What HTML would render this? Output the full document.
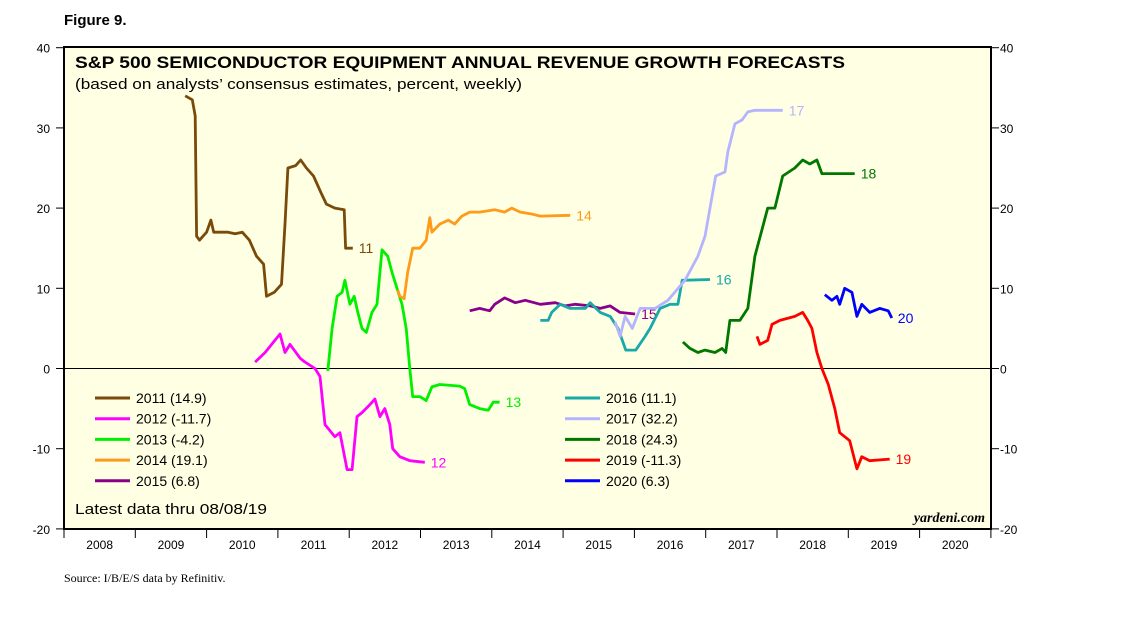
<!DOCTYPE html>
<html><head><meta charset="utf-8"><style>
body{margin:0;background:#fff;width:1138px;height:621px;overflow:hidden}
svg{display:block}
text{font-family:"Liberation Sans",Arial,sans-serif}
</style></head><body>
<svg id="chart" width="1138" height="621" xmlns="http://www.w3.org/2000/svg">
<text x="64" y="25" font-size="15" font-weight="bold">Figure 9.</text>
<rect x="64" y="47" width="927" height="482" fill="#ffffe3" stroke="#000" stroke-width="2"/>
<text x="75" y="68" font-size="17" font-weight="bold" textLength="770" lengthAdjust="spacingAndGlyphs">S&amp;P 500 SEMICONDUCTOR EQUIPMENT ANNUAL REVENUE GROWTH FORECASTS</text>
<text x="75" y="89" font-size="15" textLength="447" lengthAdjust="spacingAndGlyphs">(based on analysts’ consensus estimates, percent, weekly)</text>
<g id="axes"></g>
<g id="series"></g>
<g id="legend"></g>
<text x="75" y="514" font-size="15" textLength="192" lengthAdjust="spacingAndGlyphs">Latest data thru 08/08/19</text>
<text x="985" y="522" font-size="14" font-style="italic" font-weight="bold" text-anchor="end" style="font-family:'Liberation Serif',serif">yardeni.com</text>
<text x="64" y="582" font-size="12" style="font-family:'Liberation Serif',serif">Source: I/B/E/S data by Refinitiv.</text>
</svg>
<script>
const yTicks=[40,30,20,10,0,-10,-20];
const years=[2008,2009,2010,2011,2012,2013,2014,2015,2016,2017,2018,2019,2020];
const t11=[2009.70,2009.80,2009.84,2009.86,2009.9,2009.95,2010.0,2010.06,2010.1,2010.3,2010.4,2010.5,2010.6,2010.7,2010.8,2010.84,2010.95,2011.05,2011.1,2011.14,2011.25,2011.32,2011.4,2011.5,2011.6,2011.68,2011.8,2011.93,2011.95,2012.05];
const v11=[34,33.5,31.5,16.5,16,16.5,17,18.5,17,17,16.8,17,16,14,13,9,9.5,10.5,18,25,25.3,26,25,24,22,20.5,20,19.8,15,15];
const t12=[2010.68,2010.82,2011.03,2011.10,2011.17,2011.31,2011.38,2011.52,2011.59,2011.66,2011.80,2011.87,2011.97,2012.04,2012.11,2012.18,2012.29,2012.36,2012.43,2012.50,2012.57,2012.61,2012.71,2012.85,2013.06];
const v12=[0.8,2,4.3,2,3,1.3,0.8,0,-1,-7,-8.5,-8,-12.6,-12.6,-6,-5.5,-4.5,-3.8,-6,-5,-7,-10,-11,-11.5,-11.7];
const t13=[2011.70,2011.76,2011.83,2011.90,2011.94,2012.01,2012.07,2012.12,2012.18,2012.24,2012.32,2012.39,2012.46,2012.54,2012.60,2012.74,2012.80,2012.85,2012.89,2012.99,2013.08,2013.16,2013.27,2013.55,2013.62,2013.69,2013.83,2013.95,2014.02,2014.11];
const v13=[-0.3,5,9,9.5,11,8,9,7,5,4.5,7,8,14.8,14,12,8,5,0,-3.5,-3.5,-4,-2.3,-2,-2.2,-2.5,-4.5,-5,-5.2,-4.2,-4.2];
const t14=[2012.68,2012.71,2012.77,2012.82,2012.89,2012.99,2013.08,2013.13,2013.16,2013.27,2013.39,2013.48,2013.58,2013.69,2013.83,2014.04,2014.18,2014.28,2014.40,2014.54,2014.68,2015.10];
const v14=[9.8,9,8.7,12,15,15,16,18.8,17,18,18.5,18,19,19.5,19.5,19.8,19.5,20,19.5,19.3,19,19.1];
const t15=[2013.69,2013.83,2013.97,2014.04,2014.18,2014.33,2014.47,2014.68,2014.89,2015.03,2015.17,2015.38,2015.52,2015.66,2015.80,2016.01];
const v15=[7.2,7.5,7.2,8,8.8,8.2,8.5,8,8.2,7.8,8,7.8,7.5,7.8,7,6.8];
const t16=[2014.68,2014.79,2014.84,2014.96,2015.10,2015.31,2015.38,2015.52,2015.66,2015.77,2015.88,2016.02,2016.15,2016.22,2016.36,2016.50,2016.61,2016.67,2017.06];
const v16=[6,6,7,8,7.5,7.5,8.2,7,6.5,5,2.3,2.3,4,5,7.5,8,8,11,11.1];
const t17=[2015.73,2015.80,2015.87,2015.97,2016.08,2016.29,2016.47,2016.71,2016.89,2016.99,2017.06,2017.14,2017.27,2017.31,2017.41,2017.51,2017.59,2017.69,2018.08];
const v17=[5.8,4,6.5,5,7.5,7.5,8.5,11,14,16.5,20,24,24.5,27,30.5,31,32,32.2,32.2];
const t18=[2016.68,2016.78,2016.89,2016.99,2017.13,2017.23,2017.28,2017.34,2017.48,2017.59,2017.69,2017.87,2017.97,2018.08,2018.25,2018.36,2018.46,2018.56,2018.63,2019.09];
const v18=[3.3,2.5,2,2.3,2,2.5,2,6,6,7.5,14,20,20,24,25,26,25.5,26,24.3,24.3];
const t19=[2017.72,2017.76,2017.87,2017.93,2018.04,2018.25,2018.36,2018.43,2018.49,2018.56,2018.63,2018.72,2018.81,2018.88,2019.02,2019.12,2019.19,2019.30,2019.58];
const v19=[4,3,3.5,5.5,6,6.5,7,6,5,2,0,-2,-5,-8,-9,-12.5,-11,-11.5,-11.3];
const t20=[2018.67,2018.77,2018.84,2018.88,2018.95,2019.05,2019.12,2019.19,2019.30,2019.44,2019.56,2019.61];
const v20=[9.2,8.5,9,8,10,9.5,6.5,8,7,7.5,7.2,6.3];
const seriesNames=["2011 (14.9)","2012 (-11.7)","2013 (-4.2)","2014 (19.1)","2015 (6.8)","2016 (11.1)","2017 (32.2)","2018 (24.3)","2019 (-11.3)","2020 (6.3)"];
const endLabels=["11","12","13","14","15","16","17","18","19","20"];
const colors=["#7a4a0a","#ff00ff","#00f000","#ff9a1a","#8b008b","#1aa8a8","#b4b4ff","#007800","#ff0000","#0000ff"];
const T=[t11,t12,t13,t14,t15,t16,t17,t18,t19,t20], V=[v11,v12,v13,v14,v15,v16,v17,v18,v19,v20];
const NS="http://www.w3.org/2000/svg";
const X=t=>64+(t-2008)*71.3, Y=v=>368.5-v*8.02;
function mk(tag,attrs,parent,txt){const e=document.createElementNS(NS,tag);for(const k in attrs)e.setAttribute(k,attrs[k]);if(txt!==undefined)e.textContent=txt;parent.appendChild(e);return e;}
const ax=document.getElementById('axes');
yTicks.forEach(v=>{
 const l=mk('text',{x:50,y:Y(v)+5,'font-size':12,'text-anchor':'end'},ax,String(v));
 
 
 const r=mk('text',{x:1000,y:Y(v)+5,'font-size':12},ax,String(v));
 
 
 const a=mk('line',{x1:56,x2:64,y1:Y(v),y2:Y(v),stroke:'#000'},ax);
 
 
 const b=mk('line',{x1:991,x2:999,y1:Y(v),y2:Y(v),stroke:'#000'},ax);
 
 
});
const z=mk('line',{x1:64,x2:991,y1:Y(0),y2:Y(0),stroke:'#000','stroke-width':1},ax);


years.forEach(yr=>{
 const t=mk('text',{x:X(yr+0.5),y:549,'font-size':12,'text-anchor':'middle'},ax,String(yr));
 
 
 const m=mk('line',{x1:X(yr),x2:X(yr),y1:529,y2:538,stroke:'#000'},ax);
 
 
});
const me=mk('line',{x1:X(2021),x2:X(2021),y1:529,y2:538,stroke:'#000'},ax);


const sg=document.getElementById('series'), lg=document.getElementById('legend');
T.forEach((ts,i)=>{
 const d=ts.map((t,j)=>(j?'L':'M')+X(t).toFixed(1)+' '+Y(V[i][j]).toFixed(1)).join(' ');
 const p=mk('path',{d:d,fill:'none',stroke:colors[i],'stroke-width':2.8,'stroke-linejoin':'round'},sg);
 
 
 const n=ts.length-1;
 const lb=mk('text',{x:X(ts[n])+6,y:Y(V[i][n])+5,'font-size':14,fill:colors[i]},sg,endLabels[i]);
 
 
 const col=i<5?0:1, row=i%5;
 const lx=col?565:95, ly=398+row*20.7;
 const sw=mk('line',{x1:lx,x2:lx+35,y1:ly,y2:ly,stroke:colors[i],'stroke-width':3},lg);
 
 
 const lt=mk('text',{x:lx+41,y:ly+5,'font-size':14},lg,seriesNames[i]);
 
 
});
</script>
</body></html>
